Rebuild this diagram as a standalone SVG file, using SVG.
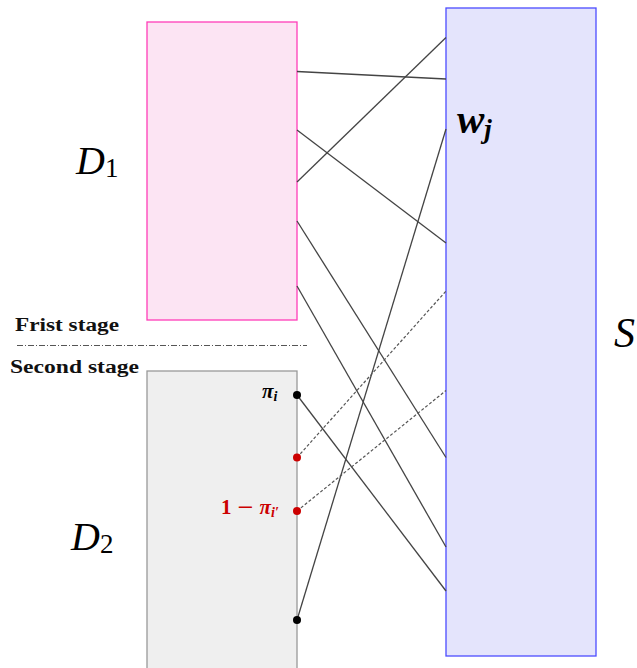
<svg xmlns="http://www.w3.org/2000/svg" width="637" height="668" viewBox="0 0 637 668">
<style>
.ln{stroke:#444;stroke-width:1.3;fill:none}
.dash{stroke:#555;stroke-width:1.2;fill:none;stroke-dasharray:3 2}
.math{font-family:"Liberation Serif","Times New Roman",serif;font-style:italic}
.bm{font-family:"Liberation Serif","Times New Roman",serif;font-style:italic;font-weight:bold}
.stage{font-family:"Liberation Serif","Times New Roman",serif;font-weight:bold;font-size:18.5px;fill:#111}
</style>
<rect width="637" height="668" fill="#fff"/>
<g id="D1">
<rect x="147" y="22" width="150" height="298" fill="#fce4f3" stroke="#ff3db8" stroke-width="1.3"/>
<text class="math" x="76" y="174" font-size="40">D<tspan font-style="normal" font-size="27" dy="3">1</tspan></text>
</g>
<g id="D2">
<rect x="147" y="371" width="150" height="310" fill="#efefef" stroke="#999" stroke-width="1.3"/>
<text class="math" x="71" y="550" font-size="40">D<tspan font-style="normal" font-size="27" dy="3">2</tspan></text>
</g>
<g id="S">
<rect x="446" y="8" width="150" height="648" fill="#e4e4fc" stroke="#4c4cff" stroke-width="1.3"/>
<text class="bm" x="457" y="133" font-size="41">w<tspan font-size="27" dy="5">j</tspan></text>
<text class="math" x="614" y="347" font-size="42">S</text>
</g>
<g id="stages">
<line x1="17" y1="345.5" x2="307" y2="345.5" stroke="#555" stroke-width="1.1" stroke-dasharray="6 2 1 2"/>
<text class="stage" x="15" y="331" textLength="104" lengthAdjust="spacingAndGlyphs">Frist stage</text>
<text class="stage" x="10" y="373" textLength="129" lengthAdjust="spacingAndGlyphs">Second stage</text>
</g>
<g id="connectors">
<line class="ln" x1="297" y1="71.5" x2="446" y2="79"/>
<line class="ln" x1="297" y1="182" x2="446" y2="37.5"/>
<line class="ln" x1="297" y1="130" x2="446" y2="243"/>
<line class="ln" x1="297" y1="221" x2="446" y2="457.5"/>
<line class="ln" x1="297" y1="286" x2="446" y2="547"/>
<line class="ln" x1="297" y1="620" x2="446" y2="129"/>
<line class="ln" x1="297" y1="395" x2="446" y2="591"/>
<line class="dash" x1="297" y1="457.5" x2="446" y2="291"/>
<line class="dash" x1="297" y1="511" x2="446" y2="390.5"/>
</g>
<g id="pi">
<circle cx="297" cy="395" r="4" fill="#000"/>
<text class="bm" x="262" y="398" font-size="21" fill="#000">π<tspan font-size="14" dy="3">i</tspan></text>
</g>
<g id="red1">
<circle cx="297" cy="457.5" r="4" fill="#cc0000"/>
</g>
<g id="red2">
<circle cx="297" cy="511" r="4" fill="#cc0000"/>
<text x="221" y="514" font-size="21" fill="#cc0000" font-family="Liberation Serif, serif" font-weight="bold">1 <tspan font-family="DejaVu Serif, serif" font-weight="normal">−</tspan> <tspan class="bm">π</tspan><tspan class="bm" font-size="14" dy="3">i′</tspan></text>
</g>
<g id="black2">
<circle cx="297" cy="620" r="4" fill="#000"/>
</g>
</svg>
